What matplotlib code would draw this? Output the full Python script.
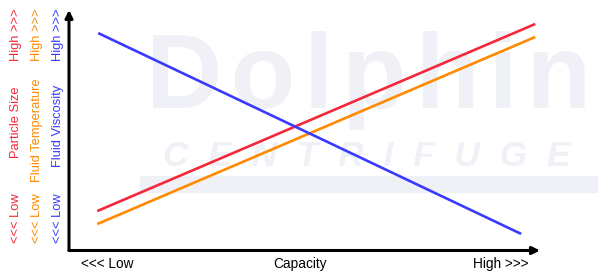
import matplotlib.pyplot as plt
from matplotlib.patches import Rectangle

plt.rcParams['font.family'] = ['Liberation Sans', 'DejaVu Sans']

# capacity (x, 0-100) vs relative level (y, 0-100), start and end points of each trend line
capacity = [6, 99]
particle_size = [16.4, 94.2]
fluid_temperature = [11.0, 88.8]
viscosity_x = [6.2, 96.0]
fluid_viscosity = [90.4, 6.9]

red = '#f5283a'
orange = '#ff8a00'
blue = '#3a3aff'

W, H = 600, 278
fig = plt.figure(figsize=(6, 2.78), dpi=100)

def px(x, y):
    return x / W, 1 - y / H

# faint watermark behind the chart
wm = '#eff1f7'
fig.text(*px(368, 80), '\u200a'.join('Dolphin'), fontsize=76, fontweight='bold', color=wm,
         ha='center', va='center', zorder=-2)
fig.text(*px(367, 157), '  '.join('CENTRIFUGE'), fontsize=25.5, fontweight='bold',
         fontstyle='italic', color=wm, ha='center', va='center', zorder=-2)
fig.patches.append(Rectangle(px(140, 192), 457 / W, 16 / H, transform=fig.transFigure,
                             color=wm, zorder=-2))

ax = fig.add_axes([69 / W, 1 - 250.5 / H, (540 - 69) / W, (250.5 - 10) / H])
ax.patch.set_visible(False)
ax.set_xlim(0, 100)
ax.set_ylim(0, 100)
for s in ax.spines.values():
    s.set_visible(False)
ax.set_xticks([])
ax.set_yticks([])

ax.plot(capacity, particle_size, color=red, lw=1.9, solid_capstyle='butt')
ax.plot(capacity, fluid_temperature, color=orange, lw=1.9, solid_capstyle='butt')
ax.plot(viscosity_x, fluid_viscosity, color=blue, lw=1.9, solid_capstyle='butt')

arrow = dict(arrowstyle='-|>', lw=2.2, color='black', mutation_scale=11, shrinkA=0, shrinkB=0)
ax.annotate('', xy=(1, 0), xytext=(0, 0), xycoords='axes fraction', arrowprops=arrow)
ax.annotate('', xy=(0, 1), xytext=(0, 0), xycoords='axes fraction', arrowprops=arrow)

# x-axis captions
fs = 9.8
fig.text(*px(107, 264), '<<< Low', fontsize=fs, ha='center', va='center')
fig.text(*px(300, 264), 'Capacity', fontsize=fs, ha='center', va='center')
fig.text(*px(501, 264), 'High >>>', fontsize=fs, ha='center', va='center')

# y-axis captions, one column per series
cols = [(16, red, 'Particle Size', 122),
        (37, orange, 'Fluid Temperature', 130),
        (58, blue, 'Fluid Viscosity', 126)]
for x, c, label, yc in cols:
    fig.text(*px(x, 35), 'High >>>', fontsize=9.3, color=c, rotation=90, ha='center', va='center')
    fig.text(*px(x, yc), label, fontsize=9.3, color=c, rotation=90, ha='center', va='center')
    fig.text(*px(x, 218), '<<< Low', fontsize=9.3, color=c, rotation=90, ha='center', va='center')

fig.savefig('out.png', dpi=100)
